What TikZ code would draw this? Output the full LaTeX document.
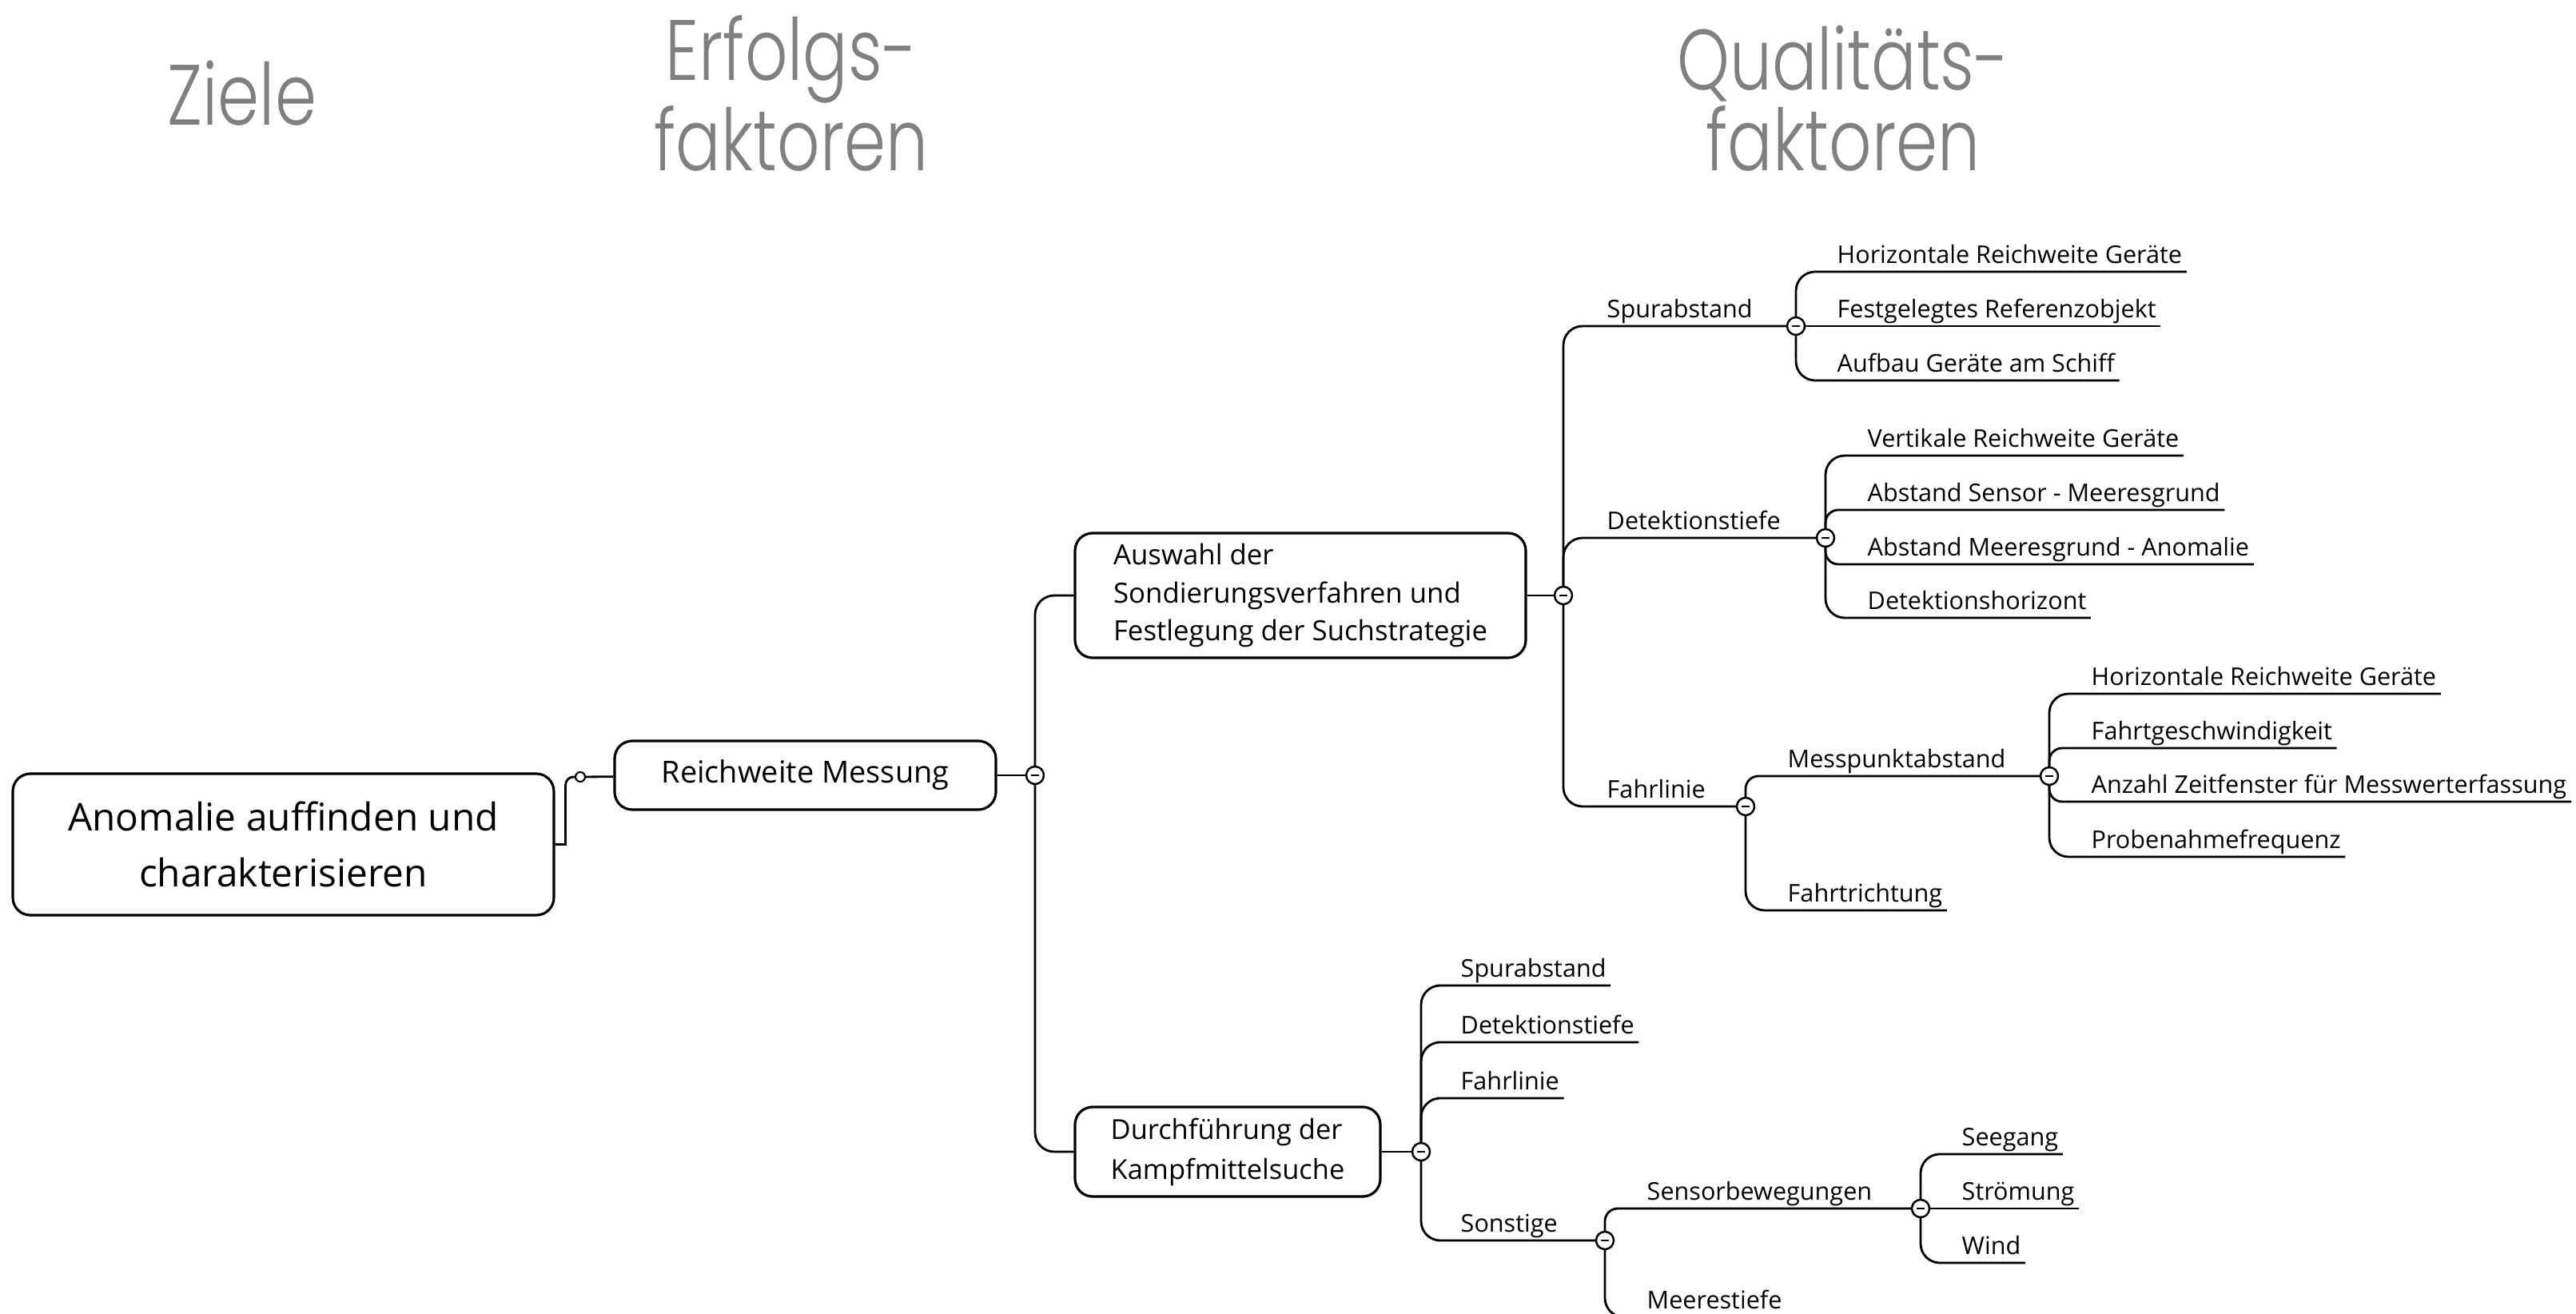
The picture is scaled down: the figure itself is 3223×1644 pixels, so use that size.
\documentclass[tikz,border=0pt]{standalone}
\usepackage{fontspec}
\setmainfont{Open Sans}
\newfontfamily\headfont{Poppins Light}[FakeStretch=0.78]

\begin{document}
\begin{tikzpicture}[x=0.1mm, y=-0.1mm,
        wire/.style={line width=0.8pt, rounded corners=2.4mm},
        tight/.style={wire, rounded corners=1.6mm},
        box/.style={draw, line width=0.9pt, rounded corners=2.2mm, inner sep=0pt},
        leaf/.style={anchor=south west, inner xsep=0.5mm, inner ysep=0.3mm, text height=2.3mm, text depth=0.7mm, font=\fontsize{8.7}{10}\selectfont},
        knob/.style={circle, draw, line width=0.7pt, fill=white, minimum size=2.2mm, inner sep=0pt,
            path picture={\draw[line width=0.6pt] ([xshift=-0.5mm]path picture bounding box.center) -- ([xshift=0.5mm]path picture bounding box.center);}},
        head/.style={text=gray, font=\headfont\fontsize{30.5}{29}\selectfont, align=center, anchor=base}]

        \useasboundingbox (0,0) rectangle (3223,1644);

        \node [head] (ziele) at (303,157) {Ziele};
        \node [head] (erfolg) at (990,214) {Erfolgs-\\faktoren};
        \node [head] (quali) at (2306,214) {Qualitäts-\\faktoren};

        \node [box, minimum width=67.7mm, minimum height=17.7mm, align=center, font=\fontsize{13.6}{19.8}\selectfont] (ziel) at (354.5,1056.5) {Anomalie auffinden und\\charakterisieren};
        \node [circle, draw, line width=0.6pt, minimum size=1.2mm, inner sep=0pt] (dot) at (726,972) {};
        \node [box, minimum width=47.7mm, minimum height=8.6mm, font=\fontsize{10.8}{13}\selectfont] (rw) at (1007.5,970) {Reichweite Messung};
        \node [knob] (k0) at (1295,970) {};
        \node [box, minimum width=56.4mm, minimum height=15.6mm, align=left, font=\fontsize{9.9}{13.6}\selectfont] (ausw) at (1627,745) {Auswahl der\\Sondierungsverfahren und\\Festlegung der Suchstrategie};
        \node [box, minimum width=38.2mm, minimum height=11.2mm, align=left, font=\fontsize{9.8}{14.2}\selectfont] (durch) at (1536,1441) {Durchführung der\\Kampfmittelsuche};
        \node [knob] (kA) at (1956,745) {};
        \node [knob] (kB) at (1778,1441) {};

        \node [leaf] (spurA) at (2005,408) {Spurabstand};
        \node [leaf] (detA) at (2005,673) {Detektionstiefe};
        \node [leaf] (fahrA) at (2005,1009) {Fahrlinie};
        \node [knob] (kS) at (2247,408) {};
        \node [knob] (kD) at (2284,673) {};
        \node [knob] (kF) at (2184,1009) {};
        \node [leaf] (horA) at (2293,340) {Horizontale Reichweite Geräte};
        \node [leaf] (fest) at (2293,408) {Festgelegtes Referenzobjekt};
        \node [leaf] (aufb) at (2293,476) {Aufbau Geräte am Schiff};
        \node [leaf] (vert) at (2331,570) {Vertikale Reichweite Geräte};
        \node [leaf] (abss) at (2331,638) {Abstand Sensor - Meeresgrund};
        \node [leaf] (absm) at (2331,706) {Abstand Meeresgrund - Anomalie};
        \node [leaf] (hori) at (2331,773) {Detektionshorizont};
        \node [leaf] (mess) at (2231,971) {Messpunktabstand};
        \node [leaf] (richt) at (2231,1139) {Fahrtrichtung};
        \node [knob] (kM) at (2564,971) {};
        \node [leaf] (horB) at (2611,868) {Horizontale Reichweite Geräte};
        \node [leaf] (tempo) at (2611,936) {Fahrtgeschwindigkeit};
        \node [leaf] (fenster) at (2611,1003) {Anzahl Zeitfenster für Messwerterfassung};
        \node [leaf] (probe) at (2611,1072) {Probenahmefrequenz};

        \node [leaf] (spurB) at (1822,1233) {Spurabstand};
        \node [leaf] (detB) at (1822,1304) {Detektionstiefe};
        \node [leaf] (fahrB) at (1822,1374) {Fahrlinie};
        \node [leaf] (sonst) at (1822,1552) {Sonstige};
        \node [knob] (kO) at (2008,1552) {};
        \node [leaf] (sens) at (2055,1512) {Sensorbewegungen};
        \node [leaf] (tiefe) at (2055,1648) {Meerestiefe};
        \node [knob] (kW) at (2403,1512) {};
        \node [leaf] (see) at (2449,1444) {Seegang};
        \node [leaf] (strom) at (2449,1512) {Strömung};
        \node [leaf] (wind) at (2449,1580) {Wind};

        \draw [line width=0.8pt] (ziel.east) -- ++(13,0) [rounded corners=1mm] |- (dot);
        \draw [wire] (dot) -- (rw);
        \draw [wire] (rw) -- (k0);
        \draw [wire] (k0) |- (ausw);
        \draw [wire] (k0) |- (durch);
        \draw [wire] (ausw) -- (kA);
        \draw [wire] (durch) -- (kB);

        \draw [wire] (kA) |- (spurA.south west) -- (kS);
        \draw [wire] (kA) |- (detA.south west) -- (kD);
        \draw [wire] (kA) |- (fahrA.south west) -- (kF);
        \draw [wire] (kS) |- (horA.south west) -- (horA.south east);
        \draw [wire] (kS) -- (fest.south west) -- (fest.south east);
        \draw [wire] (kS) |- (aufb.south west) -- (aufb.south east);
        \draw [wire] (kD) |- (vert.south west) -- (vert.south east);
        \draw [tight] (kD) |- (abss.south west) -- (abss.south east);
        \draw [tight] (kD) |- (absm.south west) -- (absm.south east);
        \draw [wire] (kD) |- (hori.south west) -- (hori.south east);
        \draw [tight] (kF) |- (mess.south west) -- (kM);
        \draw [wire] (kF) |- (richt.south west) -- (richt.south east);
        \draw [wire] (kM) |- (horB.south west) -- (horB.south east);
        \draw [tight] (kM) |- (tempo.south west) -- (tempo.south east);
        \draw [tight] (kM) |- (fenster.south west) -- (fenster.south east);
        \draw [wire] (kM) |- (probe.south west) -- (probe.south east);

        \draw [wire] (kB) |- (spurB.south west) -- (spurB.south east);
        \draw [wire] (kB) |- (detB.south west) -- (detB.south east);
        \draw [wire] (kB) |- (fahrB.south west) -- (fahrB.south east);
        \draw [wire] (kB) |- (sonst.south west) -- (kO);
        \draw [tight] (kO) |- (sens.south west) -- (kW);
        \draw [wire] (kO) |- (tiefe.south west) -- (tiefe.south east);
        \draw [wire] (kW) |- (see.south west) -- (see.south east);
        \draw [wire] (kW) -- (strom.south west) -- (strom.south east);
        \draw [wire] (kW) |- (wind.south west) -- (wind.south east);
\end{tikzpicture}
\end{document}
